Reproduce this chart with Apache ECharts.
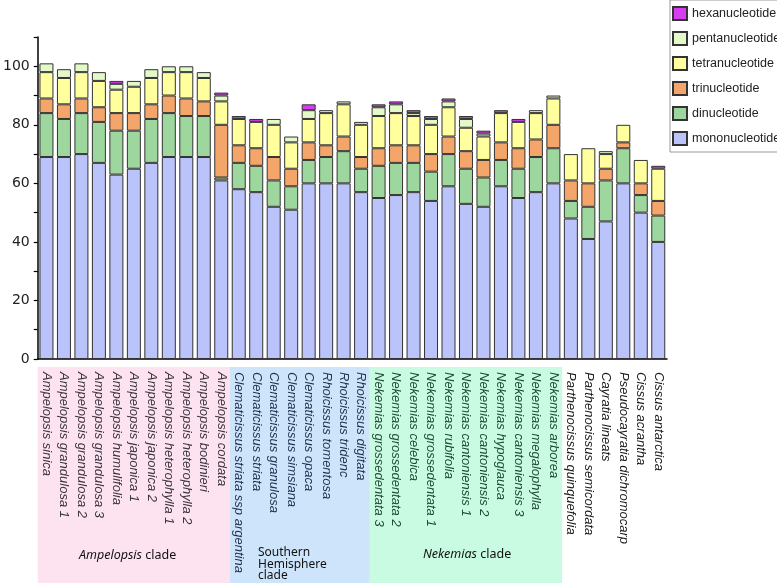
<!DOCTYPE html>
<html>
<head>
<meta charset="utf-8">
<script src="https://cdn.jsdelivr.net/npm/echarts@6/dist/echarts.min.js"></script>
<style>
html,body{margin:0;padding:0;background:#fff;}
#chart{width:777px;height:584px;}
</style>
</head>
<body>
<div id="chart"></div>
<script>
const categories = [
  'Ampelopsis sinica','Ampelopsis grandulosa 1','Ampelopsis grandulosa 2','Ampelopsis grandulosa 3',
  'Ampelopsis humulifolia','Ampelopsis japonica 1','Ampelopsis japonica 2','Ampelopsis heterophylla 1',
  'Ampelopsis heterophylla 2','Ampelopsis bodinieri','Ampelopsis cordata',
  'Clematicissus striata ssp argentina','Clematicissus striata','Clematicissus granulosa',
  'Clematicissus simsiana','Clematicissus opaca','Rhoicissus tomentosa','Rhoicissus tridenc','Rhoicissus digitata',
  'Nekemias grossedentata 3','Nekemias grossedentata 2','Nekemias celebica','Nekemias grossedentata 1',
  'Nekemias rubifolia','Nekemias cantoniensis 1','Nekemias cantoniensis 2','Nekemias hypoglauca',
  'Nekemias cantoniensis 3','Nekemias megalophylla','Nekemias arborea',
  'Parthenocissus quinquefolia','Parthenocissus semicordata','Cayratia lineats',
  'Pseudocayratia dichromocarp','Cissus acrantha','Cissus antarctica'
];
const mononucleotide = [69,69,70,67,63,65,67,69,69,69,61,58,57,52,51,60,60,60,57,55,56,57,54,59,53,52,59,55,57,60,48,41,47,60,50,40];
const dinucleotide   = [15,13,14,14,15,13,15,15,14,14,1,9,9,9,8,8,9,11,8,11,11,10,10,11,12,10,9,10,12,12,6,11,14,12,6,9];
const trinucleotide  = [5,5,5,5,6,6,5,6,6,5,18,6,6,8,6,6,4,5,4,6,6,6,6,6,6,6,6,7,6,8,7,8,4,2,4,5];
const tetranucleotide= [9,9,9,9,8,9,9,8,9,8,8,9,9,11,9,8,11,11,11,11,11,10,10,10,8,8,10,9,9,9,9,12,5,6,8,11];
const pentanucleotide= [3,3,3,3,2,2,3,2,2,2,2,0,0,2,2,3,1,1,1,3,3,1,2,2,3,1,0,0,1,1,0,0,1,0,0,0];
const hexanucleotide = [0,0,0,0,1,0,0,0,0,0,1,1,1,0,0,2,0,0,0,1,1,1,1,1,1,1,1,1,0,0,0,0,0,0,0,1];
const yTicks = [0,20,40,60,80,100];
const clades = [
  {name:'Ampelopsis', first:0, last:10},
  {name:'Southern Hemisphere', first:11, last:18},
  {name:'Nekemias', first:19, last:29}
];

const seriesDefs = [
  ['mononucleotide', mononucleotide, '#bbc3fb'],
  ['dinucleotide', dinucleotide, '#9ed79d'],
  ['trinucleotide', trinucleotide, '#f4a66a'],
  ['tetranucleotide', tetranucleotide, '#ffff9e'],
  ['pentanucleotide', pentanucleotide, '#e3f9c8'],
  ['hexanucleotide', hexanucleotide, '#d83cf0']
];

function labelColor(value) {
  const i = categories.indexOf(value);
  if (i <= 10) return '#3a3340';
  if (i <= 18) return '#1f2f4f';
  if (i <= 29) return '#1e4a33';
  return '#1a1a1a';
}

const chart = echarts.init(document.getElementById('chart'), null, {renderer:'canvas'});
const option = {
  animation: false,
  backgroundColor: '#ffffff',
  grid: {left: 37, right: 110, top: 37, bottom: 225, containLabel: false},
  legend: {
    data: seriesDefs.map(s => s[0]).reverse(),
    orient: 'vertical',
    left: 670, top: 0,
    itemWidth: 14, itemHeight: 13, itemGap: 10,
    padding: [6, 10, 6, 2],
    borderColor: '#9a9a9a', borderWidth: 1,
    icon: 'rect',
    textStyle: {fontSize: 12.5, color: '#222', fontFamily: 'Liberation Sans, Arial, sans-serif'}
  },
  xAxis: [
    {
      type: 'category', data: categories, boundaryGap: true,
      axisLine: {lineStyle: {color: '#000', width: 1.5}},
      axisTick: {alignWithLabel: true, interval: 0, length: 6, lineStyle: {color: '#000', width: 1.2}},
      axisLabel: {
        interval: 0, rotate: -90, margin: 13,
        fontSize: 13, fontStyle: 'italic',
        fontFamily: 'Liberation Sans, Arial, sans-serif',
        color: labelColor
      }
    },
    {
      type: 'category', data: categories, boundaryGap: true, position: 'bottom',
      axisLine: {show: false},
      axisTick: {interval: 0, length: 4, lineStyle: {color: '#000', width: 1.2}},
      axisLabel: {show: false}
    }
  ],
  yAxis: {
    type: 'value', min: 0, max: 110, interval: 10,
    axisLine: {show: true, lineStyle: {color: '#000', width: 1.5}},
    axisTick: {show: true, length: 4, lineStyle: {color: '#000', width: 1.2}},
    splitLine: {show: false},
    axisLabel: {
      margin: 8, fontSize: 14, color: '#222',
      fontFamily: 'DejaVu Sans, Liberation Sans, sans-serif',
      formatter: v => (yTicks.indexOf(v) >= 0 ? String(v) : '')
    }
  },
  series: seriesDefs.map(([name, vals, color]) => ({
    name, type: 'bar', stack: 'total', xAxisIndex: 0,
    barWidth: 14,
    data: vals.map(v => (v === 0 ? '-' : v)),
    itemStyle: {color, borderColor: '#333', borderWidth: 1}
  }))
};
chart.setOption(option);

// Clade background bands, positioned through the category axis scale
const c0 = chart.convertToPixel({xAxisIndex: 0}, categories[0]);
const c1 = chart.convertToPixel({xAxisIndex: 0}, categories[1]);
const half = (c1 - c0) / 2;
const bandColors = ['#fde3ef', '#cde4fa', '#c9fbe3'];
const graphics = [];
clades.forEach((cl, k) => {
  const x0 = chart.convertToPixel({xAxisIndex: 0}, categories[cl.first]) - half;
  const x1 = chart.convertToPixel({xAxisIndex: 0}, categories[cl.last]) + half;
  graphics.push({
    type: 'rect', z: -10, silent: true,
    shape: {x: x0, y: 367, width: x1 - x0, height: 216},
    style: {fill: bandColors[k]}
  });
});
const cladeFont = 'Noto Sans, Open Sans, sans-serif';
graphics.push({
  type: 'text', left: 79, top: 549,
  style: {
    text: '{i|Ampelopsis} {n|clade}',
    rich: {
      i: {fontStyle: 'italic', fontSize: 12.5, fontFamily: cladeFont, fill: '#111'},
      n: {fontSize: 12.5, fontFamily: cladeFont, fill: '#111'}
    }
  }
});
graphics.push({
  type: 'text', left: 258, top: 547,
  style: {text: 'Southern\nHemisphere\nclade', fontSize: 12, lineHeight: 11.5, fontFamily: cladeFont, fill: '#111'}
});
graphics.push({
  type: 'text', left: 423, top: 548,
  style: {
    text: '{i|Nekemias} {n|clade}',
    rich: {
      i: {fontStyle: 'italic', fontSize: 12.5, fontFamily: cladeFont, fill: '#111'},
      n: {fontSize: 12.5, fontFamily: cladeFont, fill: '#111'}
    }
  }
});
chart.setOption({graphic: graphics});
</script>
</body>
</html>
